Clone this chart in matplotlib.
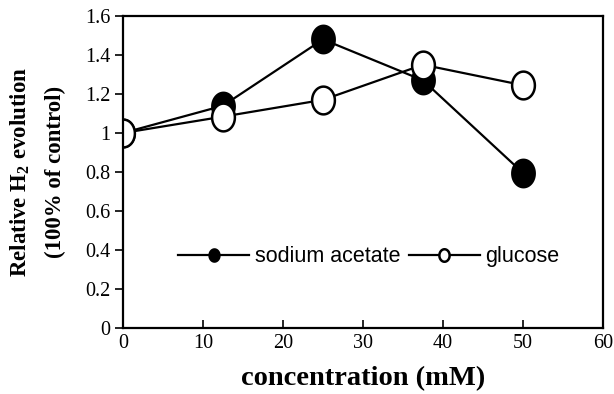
import numpy as np
import matplotlib
matplotlib.use("Agg")
import matplotlib.pyplot as plt
from matplotlib.path import Path
from matplotlib.ticker import FuncFormatter

plt.rcParams["font.family"] = ["Liberation Serif", "DejaVu Serif"]
plt.rcParams["mathtext.fontset"] = "custom"
plt.rcParams["mathtext.rm"] = "Liberation Serif"
plt.rcParams["mathtext.bf"] = "Liberation Serif:bold"

# data
conc = [0, 12.5, 25, 37.5, 50]
sodium_acetate = [1.0, 1.14, 1.48, 1.27, 0.795]
glucose = [1.0, 1.084, 1.17, 1.35, 1.245]

# slightly tall ellipse marker (like Excel's circle)
t = np.linspace(0, 2 * np.pi, 60)
ell = Path(np.column_stack([0.82 * np.cos(t), np.sin(t)]), closed=True)

fig = plt.figure(figsize=(6.14, 3.94), dpi=100)
ax = fig.add_axes([0.2003, 0.1675, 0.7818, 0.7919])

ax.plot(conc, sodium_acetate, color="black", lw=1.6, marker=ell, ms=20,
        mfc="black", mec="black", mew=1.5, label="sodium acetate")
ax.plot(conc, glucose, color="black", lw=1.6, marker=ell, ms=20,
        mfc="white", mec="black", mew=1.8, label="glucose")

ax.set_xlim(0, 60)
ax.set_ylim(0, 1.6)
ax.set_xticks(range(0, 61, 10))
ax.set_yticks(np.arange(0, 1.61, 0.2))
ax.yaxis.set_major_formatter(FuncFormatter(lambda v, p: "%g" % round(v, 1)))

for s in ax.spines.values():
    s.set_linewidth(1.6)
ax.tick_params(axis="x", direction="in", length=6, width=1.2, labelsize=14.5, pad=4)
ax.tick_params(axis="y", direction="out", length=6, width=1.2, labelsize=14.5, pad=3)

ax.set_xlabel("concentration (mM)", fontsize=20.5, fontweight="bold", labelpad=10)
ax.set_ylabel("Relative H$_\\mathbf{2}$ evolution\n(100% of control)",
              fontsize=16.5, fontweight="bold", labelpad=14, linespacing=1.8)

leg = ax.legend(loc="center", bbox_to_anchor=(0.512, 0.228), ncol=2, frameon=False,
                prop={"family": "Liberation Sans", "size": 15.5},
                handlelength=3.3, handletextpad=0.25, columnspacing=0.4,
                markerscale=0.45)

fig.savefig("out.png", dpi=100)
